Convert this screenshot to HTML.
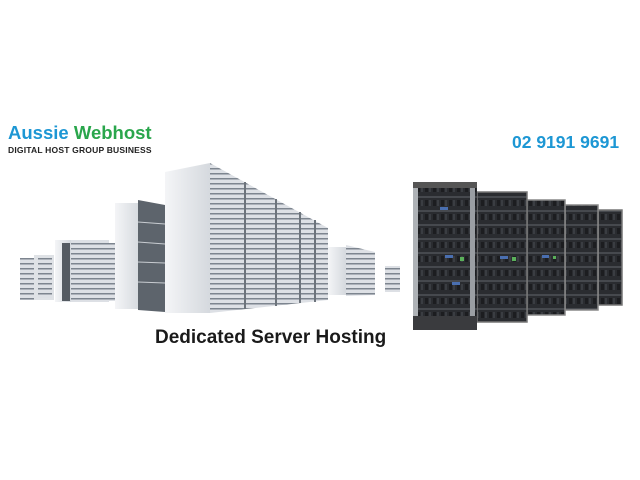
<!DOCTYPE html>
<html><head><meta charset="utf-8"><style>
body{margin:0;width:640px;height:480px;background:#fff;overflow:hidden;position:relative;font-family:"Liberation Sans",sans-serif}
.t{position:absolute;white-space:nowrap;transform-origin:0 0}
</style></head><body>
<svg width="640" height="480" style="position:absolute;left:0;top:0">
<defs>
<pattern id="sl" width="6" height="5" patternUnits="userSpaceOnUse"><rect width="6" height="5" fill="#dde0e5"/><rect y="3" width="6" height="1.5" fill="#7d858f"/></pattern>
<pattern id="dk" width="8" height="14" patternUnits="userSpaceOnUse"><rect width="8" height="14" fill="#2a2c30"/><rect y="0" width="8" height="2" fill="#46494e"/><rect x="1" y="4" width="3" height="6" fill="#1c1d20"/><rect x="5" y="4" width="2" height="6" fill="#3a3d42"/></pattern>
<linearGradient id="side" x1="0" x2="1"><stop offset="0" stop-color="#f4f5f7"/><stop offset="1" stop-color="#d5d9de"/></linearGradient>
</defs>
<rect x="20" y="258" width="14" height="42" fill="url(#sl)"/>
<rect x="34" y="255" width="20" height="45" fill="#dfe2e6"/>
<rect x="38" y="258" width="14" height="40" fill="url(#sl)"/>
<rect x="55" y="240" width="16" height="62" fill="url(#side)"/>
<rect x="62" y="243" width="8" height="58" fill="#555b62"/>
<rect x="71" y="240" width="38" height="62" fill="url(#sl)"/>
<rect x="109" y="243" width="6" height="58" fill="url(#sl)"/>
<rect x="115" y="203" width="25" height="106" fill="url(#side)"/>
<polygon points="138,200 165,205 165,312 138,310" fill="#5d646c"/>
<g stroke="#c8ccd1" stroke-width="1"><line x1="138" y1="222" x2="165" y2="224"/><line x1="138" y1="242" x2="165" y2="244"/><line x1="138" y1="262" x2="165" y2="263"/><line x1="138" y1="282" x2="165" y2="283"/></g>
<polygon points="165,172 210,163 210,313 165,313" fill="url(#side)"/>
<polygon points="210,163 328,228 328,300 210,313" fill="url(#sl)"/>
<g stroke="#6d747c" stroke-width="2"><line x1="245" y1="182" x2="245" y2="309"/><line x1="276" y1="199" x2="276" y2="306"/><line x1="300" y1="212" x2="300" y2="303"/><line x1="315" y1="220" x2="315" y2="302"/></g>
<rect x="328" y="247" width="18" height="48" fill="url(#side)"/>
<polygon points="346,245 375,252 375,295 346,296" fill="url(#sl)"/>
<rect x="385" y="266" width="15" height="26" fill="url(#sl)"/>
<rect x="598" y="210" width="24" height="95" fill="url(#dk)" stroke="#777" stroke-width="1.5"/>
<rect x="565" y="205" width="33" height="105" fill="url(#dk)" stroke="#888" stroke-width="1.5"/>
<rect x="527" y="200" width="38" height="115" fill="url(#dk)" stroke="#888" stroke-width="1.5"/>
<rect x="477" y="192" width="50" height="130" fill="url(#dk)" stroke="#777" stroke-width="1.5"/>
<rect x="413" y="182" width="64" height="148" fill="url(#dk)"/>
<rect x="413" y="182" width="64" height="6" fill="#555"/>
<rect x="413" y="316" width="64" height="14" fill="#3a3b3e"/>
<rect x="413" y="188" width="5" height="128" fill="#aeb2b6"/>
<rect x="470" y="188" width="5" height="128" fill="#9a9ea3"/>
<g fill="#4a6fb0"><rect x="440" y="207" width="8" height="3"/><rect x="445" y="255" width="8" height="3"/><rect x="452" y="282" width="8" height="3"/><rect x="500" y="256" width="8" height="3"/><rect x="542" y="255" width="7" height="3"/></g>
<g fill="#5ab05a"><rect x="460" y="257" width="4" height="4"/><rect x="512" y="257" width="4" height="4"/><rect x="553" y="256" width="3" height="3"/></g>
</svg>
<div class="t" style="left:8px;top:122px;font-size:18.5px;font-weight:bold"><span style="color:#1d97d4">Aussie</span> <span style="color:#2aa64c">Webhost</span></div>
<div class="t" style="left:8px;top:145px;font-size:8.5px;font-weight:bold;color:#222;letter-spacing:0.2px">DIGITAL HOST GROUP BUSINESS</div>
<div class="t" style="left:512px;top:132px;font-size:17.5px;font-weight:bold;color:#1d97d4">02 9191 9691</div>
<div class="t" style="left:155px;top:327px;font-size:19px;font-weight:bold;color:#1a1a1a">Dedicated Server Hosting</div>
</body></html>
